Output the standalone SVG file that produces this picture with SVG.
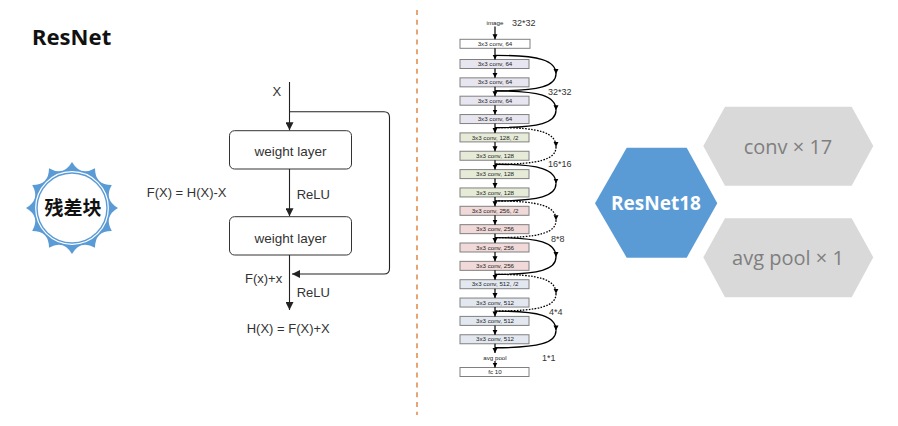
<svg xmlns="http://www.w3.org/2000/svg" width="898" height="426" viewBox="0 0 898 426">
<style>
.title{font-family:"Noto Sans","Liberation Sans",sans-serif;font-weight:bold;font-size:22px;fill:#111}
.lt{font-family:"Liberation Sans",Arial,sans-serif;font-size:13px;fill:#333}
.wl{font-family:"Liberation Sans",Arial,sans-serif;font-size:13.5px;fill:#333;text-anchor:middle}
.wbox{fill:#fff;stroke:#333;stroke-width:1}
.ln{fill:none;stroke:#222;stroke-width:1.1}
.bx{stroke:#808080;stroke-width:1}
.bt{font-family:"Liberation Sans",Arial,sans-serif;font-size:6.2px;fill:#222;text-anchor:middle}
.cl{fill:none;stroke:#000;stroke-width:1.2}
.sk{fill:none;stroke:#000;stroke-width:1.3}
.dt{stroke-dasharray:1.6 1.4}
.sz{font-family:"Liberation Sans",Arial,sans-serif;font-size:9px;fill:#333}
.hexg{fill:#D9D9D9}
.ht{font-family:"Open Sans","Noto Sans",sans-serif;font-size:20px;fill:#7F7F7F;text-anchor:middle}
</style>
<defs>
<marker id="ah" markerWidth="9" markerHeight="8" refX="8" refY="4" orient="auto" markerUnits="userSpaceOnUse">
<path d="M0,0 L8,4 L0,8 Z" fill="#222"/>
</marker>
<marker id="sa" markerWidth="6" markerHeight="6" refX="5" refY="2.5" orient="auto" markerUnits="userSpaceOnUse">
<path d="M0,0 L5,2.5 L0,5 Z" fill="#000"/>
</marker>
</defs>
<rect width="898" height="426" fill="#fff"/>
<text class="title" x="32" y="45">ResNet</text>

<g id="badge">
<g transform="translate(1,0)">
<path d="M71,162 Q79.41,176.61 94,168.2 Q93.98,185.02 110.8,185 Q102.39,199.59 117,208 Q102.39,216.41 110.8,231 Q93.98,230.98 94,247.8 Q79.41,239.39 71,254 Q62.59,239.39 48,247.8 Q48.02,230.98 31.2,231 Q39.61,216.41 25,208 Q39.61,199.59 31.2,185 Q48.02,185.02 48,168.2 Q62.59,176.61 71,162 Z" fill="#5B9BD5"/>
<circle cx="71" cy="208" r="36.3" fill="none" stroke="#fff" stroke-width="1.2"/>
<circle cx="71" cy="208" r="34.3" fill="#fff"/>
</g>
<text x="73" y="215" text-anchor="middle" style="font-family:'Noto Sans CJK SC',sans-serif;font-weight:bold;font-size:19px;fill:#111">残差块</text>
</g>

<g id="block">
<g id="wl1"><rect class="wbox" x="229.5" y="130.7" width="122" height="38.3" rx="5"/><text class="wl" x="290.5" y="155.5">weight layer</text></g>
<g id="wl2"><rect class="wbox" x="229.5" y="216.7" width="122" height="38.3" rx="5"/><text class="wl" x="290.5" y="242.5">weight layer</text></g>
<g id="block-edges">
<path class="ln" d="M289.5,82 V130.2" marker-end="url(#ah)"/>
<path class="ln" d="M289.5,169 V216.2" marker-end="url(#ah)"/>
<path class="ln" d="M289.5,255 V310" marker-end="url(#ah)"/>
<path class="ln" d="M289.5,111.7 H384 Q389.5,111.7 389.5,117.2 V268.5 Q389.5,274 384,274 H292" marker-end="url(#ah)"/>
</g>
<text class="lt" x="272.5" y="96">X</text>
<text class="lt" x="296.7" y="198.5">ReLU</text>
<text class="lt" x="146.7" y="197">F(X) = H(X)-X</text>
<text class="lt" x="245" y="282.5">F(x)+x</text>
<text class="lt" x="296.7" y="296.5">ReLU</text>
<text class="lt" x="246.7" y="332.5">H(X) = F(X)+X</text>
</g>

<line x1="417" y1="10" x2="417" y2="415" stroke="#E0884A" stroke-width="1.5" stroke-dasharray="5 4.8"/>

<g id="resnet18-arch">
<text class="bt" x="495" y="24.5">image</text>
<text class="sz" x="512" y="26">32*32</text>
<g id="b1"><rect class="bx" x="460" y="39.3" width="70" height="9" fill="#fff"/><text class="bt" x="495" y="45.9">3x3 conv, 64</text></g>
<g id="b2"><rect class="bx" x="460" y="59.5" width="69" height="9" fill="#E7E5EF"/><text class="bt" x="495" y="66.1">3x3 conv, 64</text></g>
<g id="b3"><rect class="bx" x="460" y="77.85" width="69" height="9" fill="#E7E5EF"/><text class="bt" x="495" y="84.45">3x3 conv, 64</text></g>
<g id="b4"><rect class="bx" x="460" y="96.2" width="69" height="9" fill="#E7E5EF"/><text class="bt" x="495" y="102.8">3x3 conv, 64</text></g>
<g id="b5"><rect class="bx" x="460" y="114.55" width="69" height="9" fill="#E7E5EF"/><text class="bt" x="495" y="121.15">3x3 conv, 64</text></g>
<g id="b6"><rect class="bx" x="460" y="132.9" width="69" height="9" fill="#E6EBD8"/><text class="bt" x="495" y="139.5">3x3 conv, 128, /2</text></g>
<g id="b7"><rect class="bx" x="460" y="151.25" width="69" height="9" fill="#E6EBD8"/><text class="bt" x="495" y="157.85">3x3 conv, 128</text></g>
<g id="b8"><rect class="bx" x="460" y="169.6" width="69" height="9" fill="#E6EBD8"/><text class="bt" x="495" y="176.2">3x3 conv, 128</text></g>
<g id="b9"><rect class="bx" x="460" y="187.95" width="69" height="9" fill="#E6EBD8"/><text class="bt" x="495" y="194.55">3x3 conv, 128</text></g>
<g id="b10"><rect class="bx" x="460" y="206.3" width="69" height="9" fill="#F0D9D8"/><text class="bt" x="495" y="212.9">3x3 conv, 256, /2</text></g>
<g id="b11"><rect class="bx" x="460" y="224.65" width="69" height="9" fill="#F0D9D8"/><text class="bt" x="495" y="231.25">3x3 conv, 256</text></g>
<g id="b12"><rect class="bx" x="460" y="243" width="69" height="9" fill="#F0D9D8"/><text class="bt" x="495" y="249.6">3x3 conv, 256</text></g>
<g id="b13"><rect class="bx" x="460" y="261.35" width="69" height="9" fill="#F0D9D8"/><text class="bt" x="495" y="267.95">3x3 conv, 256</text></g>
<g id="b14"><rect class="bx" x="460" y="279.7" width="69" height="9" fill="#E3E8F0"/><text class="bt" x="495" y="286.3">3x3 conv, 512, /2</text></g>
<g id="b15"><rect class="bx" x="460" y="298.05" width="69" height="9" fill="#E3E8F0"/><text class="bt" x="495" y="304.65">3x3 conv, 512</text></g>
<g id="b16"><rect class="bx" x="460" y="316.4" width="69" height="9" fill="#E3E8F0"/><text class="bt" x="495" y="323">3x3 conv, 512</text></g>
<g id="b17"><rect class="bx" x="460" y="334.75" width="69" height="9" fill="#E3E8F0"/><text class="bt" x="495" y="341.35">3x3 conv, 512</text></g>
<g id="pool"><text class="bt" x="495" y="359.6">avg pool</text></g>
<g id="fc"><rect class="bx" x="460" y="367.5" width="69" height="9" fill="#fff"/><text class="bt" x="495" y="374.1">fc 10</text></g>

<g id="arch-edges">
<path class="cl" d="M495,26.5 V39.3" stroke-width="2" marker-end="url(#sa)"/>
<path class="cl" d="M495,48.3 V59.5" marker-end="url(#sa)"/>
<path class="cl" d="M495,68.5 V77.85" marker-end="url(#sa)"/>
<path class="cl" d="M495,86.85 V96.2" marker-end="url(#sa)"/>
<path class="cl" d="M495,105.2 V114.55" marker-end="url(#sa)"/>
<path class="cl" d="M495,123.55 V132.9" marker-end="url(#sa)"/>
<path class="cl" d="M495,141.9 V151.25" marker-end="url(#sa)"/>
<path class="cl" d="M495,160.25 V169.6" marker-end="url(#sa)"/>
<path class="cl" d="M495,178.6 V187.95" marker-end="url(#sa)"/>
<path class="cl" d="M495,196.95 V206.3" marker-end="url(#sa)"/>
<path class="cl" d="M495,215.3 V224.65" marker-end="url(#sa)"/>
<path class="cl" d="M495,233.65 V243" marker-end="url(#sa)"/>
<path class="cl" d="M495,252 V261.35" marker-end="url(#sa)"/>
<path class="cl" d="M495,270.35 V279.7" marker-end="url(#sa)"/>
<path class="cl" d="M495,288.7 V298.05" marker-end="url(#sa)"/>
<path class="cl" d="M495,307.05 V316.4" marker-end="url(#sa)"/>
<path class="cl" d="M495,325.4 V334.75" marker-end="url(#sa)"/>
<path class="cl" d="M495,343.75 V353" marker-end="url(#sa)"/>
<path class="cl" d="M495,361 V367.5" marker-end="url(#sa)"/>

<path class="sk" d="M495,55.3 C540,55.3 556,60.3 556,74" marker-end="url(#sa)"/>
<path class="sk" d="M556,74 C556,85.8 540,90.85 495,90.85"/>
<path class="sk" d="M495,90.85 C540,90.85 556,95.85 556,110.2" marker-end="url(#sa)"/>
<path class="sk" d="M556,110.2 C556,122.55 540,127.55 495,127.55"/>
<path class="sk dt" d="M495,127.55 C540,127.55 556,132.55 556,146.9" marker-end="url(#sa)"/>
<path class="sk dt" d="M556,146.9 C556,159.25 540,164.25 495,164.25"/>
<path class="sk" d="M495,164.25 C540,164.25 556,169.25 556,183.6" marker-end="url(#sa)"/>
<path class="sk" d="M556,183.6 C556,195.95 540,200.95 495,200.95"/>
<path class="sk dt" d="M495,200.95 C540,200.95 556,205.95 556,220.3" marker-end="url(#sa)"/>
<path class="sk dt" d="M556,220.3 C556,232.65 540,237.65 495,237.65"/>
<path class="sk" d="M495,237.65 C540,237.65 556,242.65 556,257" marker-end="url(#sa)"/>
<path class="sk" d="M556,257 C556,269.35 540,274.35 495,274.35"/>
<path class="sk dt" d="M495,274.35 C540,274.35 556,279.35 556,293.7" marker-end="url(#sa)"/>
<path class="sk dt" d="M556,293.7 C556,306.05 540,311.05 495,311.05"/>
<path class="sk" d="M495,311.05 C540,311.05 556,316.05 556,330.4" marker-end="url(#sa)"/>
<path class="sk" d="M556,330.4 C556,342.75 540,347.75 495,347.75"/>
</g>
<text class="sz" x="548" y="94.5">32*32</text>
<text class="sz" x="548" y="166.5">16*16</text>
<text class="sz" x="551" y="241.5">8*8</text>
<text class="sz" x="549" y="315">4*4</text>
<text class="sz" x="542" y="361">1*1</text>
</g>

<g id="resnet18">
<polygon points="595,203.3 626.7,147.7 686.7,147.7 717.3,203.3 686.7,257.7 626.7,257.7" fill="#5B9BD5"/>
<text x="656" y="210" text-anchor="middle" style="font-family:'Open Sans','Noto Sans',sans-serif;font-weight:bold;font-size:19px;fill:#fff">ResNet18</text>
</g>
<g id="conv17">
<polygon class="hexg" points="703.3,146 725,106.7 851.7,106.7 873.3,146 851.7,185.7 725,185.7"/>
<text class="ht" x="788" y="153.5">conv × 17</text>
</g>
<g id="avgpool1">
<polygon class="hexg" points="703.3,257.3 725,218.3 851.7,218.3 873.3,257.3 851.7,297.3 725,297.3"/>
<text class="ht" x="788" y="264.5">avg pool × 1</text>
</g>
</svg>
